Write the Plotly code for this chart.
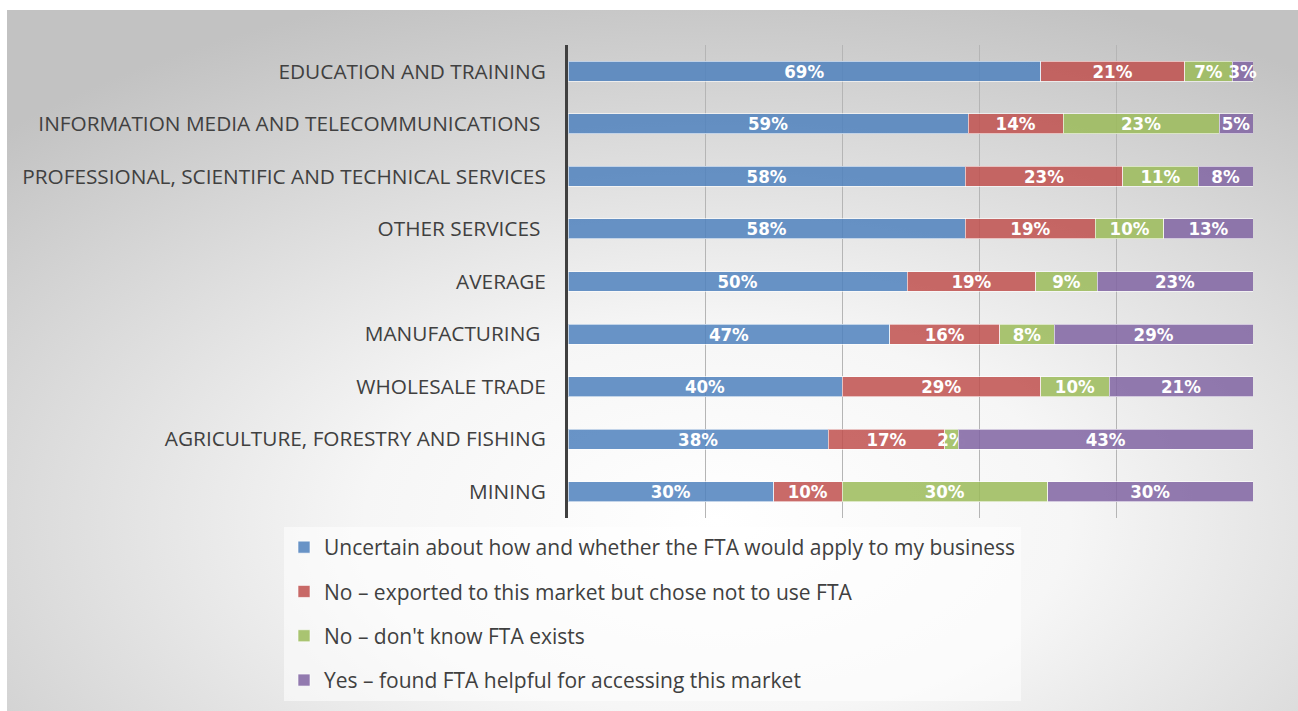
import base64
import plotly.graph_objects as go

categories = [
    "EDUCATION AND TRAINING",
    "INFORMATION MEDIA AND TELECOMMUNICATIONS\u00a0",
    "PROFESSIONAL, SCIENTIFIC AND TECHNICAL SERVICES",
    "OTHER SERVICES\u00a0",
    "AVERAGE",
    "MANUFACTURING\u00a0",
    "WHOLESALE TRADE",
    "AGRICULTURE, FORESTRY AND FISHING",
    "MINING",
]
uncertain = [69, 59, 58, 58, 50, 47, 40, 38, 30]
chose_not = [21, 14, 23, 19, 19, 16, 29, 17, 10]
dont_know = [7, 23, 11, 10, 9, 8, 10, 2, 30]
helpful = [3, 5, 8, 13, 23, 29, 21, 43, 30]

series_names = [
    "Uncertain about how and whether the FTA would apply to my business",
    "No \u2013 exported to this market but chose not to use FTA",
    "No \u2013 don't know FTA exists",
    "Yes \u2013 found FTA helpful for accessing this market",
]
series_values = [uncertain, chose_not, dont_know, helpful]
colors = [
    "rgba(79,129,189,0.85)",
    "rgba(192,80,77,0.85)",
    "rgba(155,187,89,0.85)",
    "rgba(128,100,162,0.85)",
]

W, H = 1298, 711
L, R, T, B = 568, 1253, 45, 518
pw, ph = R - L, B - T

fig = go.Figure()
for i, (name, vals, col) in enumerate(zip(series_names, series_values, colors)):
    fig.add_trace(go.Bar(
        y=categories, x=vals, name=name, orientation="h",
        marker=dict(color=col, line=dict(color="rgba(255,255,255,0.6)", width=1)),
        text=[f"{v}%" for v in vals], texttemplate="%{text}",
        textposition="inside", insidetextanchor="middle", textangle=0,
        textfont=dict(family="Liberation Sans Narrow, DejaVu Sans Condensed, sans-serif",
                      size=18.5, color="white", weight="bold"),
        constraintext="none", cliponaxis=False,
        legendgroup=f"g{i}", hoverinfo="skip",
    ))

svg = ("<svg xmlns='http://www.w3.org/2000/svg' width='1291' height='710' preserveAspectRatio='none'>"
       "<defs><radialGradient id='g' cx='0.55' cy='0.72' r='0.78'>"
       "<stop offset='0' stop-color='#ffffff'/><stop offset='0.35' stop-color='#f6f6f6'/>"
       "<stop offset='1' stop-color='#c2c2c2'/></radialGradient></defs>"
       "<rect width='100%' height='100%' fill='url(#g)'/></svg>")
src = "data:image/svg+xml;base64," + base64.b64encode(svg.encode()).decode()

px0, py0, px1, py1 = 7, 10, 1298, 720
fig.add_layout_image(dict(
    source=src, xref="paper", yref="paper",
    x=(px0 - L) / pw, y=(B - py0) / ph,
    sizex=(px1 - px0) / pw, sizey=(py1 - py0) / ph,
    xanchor="left", yanchor="top", sizing="stretch", layer="below",
))

fig.update_layout(
    width=W, height=H,
    margin=dict(l=L, r=W - R, t=T, b=H - B, autoexpand=False),
    barmode="stack", barnorm="percent", bargap=0.62,
    paper_bgcolor="white", plot_bgcolor="rgba(0,0,0,0)",
    uniformtext=dict(minsize=18.5, mode="show"),
    showlegend=True,
    legend=dict(
        orientation="v", traceorder="grouped", tracegroupgap=14,
        x=(284 - L) / pw, y=(B - 527) / ph, xanchor="left", yanchor="top",
        bgcolor="rgba(255,255,255,0.55)",
        font=dict(family="Open Sans, sans-serif", size=21, color="#404040"),
    ),
    xaxis=dict(range=[0, 100], showticklabels=False, showgrid=True,
               gridcolor="#b5b5b5", gridwidth=1, zeroline=False,
               tickvals=[0, 20, 40, 60, 80, 100], fixedrange=True),
    yaxis=dict(categoryorder="array", categoryarray=categories, autorange="reversed",
               showline=True, linecolor="#404040", linewidth=3, ticks="",
               ticklabelstandoff=15, fixedrange=True,
               tickfont=dict(family="Open Sans, sans-serif", size=20.8, color="#404040")),
)

fig.write_html("out.html", config={"displayModeBar": False},
               post_script="document.body.style.margin='0';")
